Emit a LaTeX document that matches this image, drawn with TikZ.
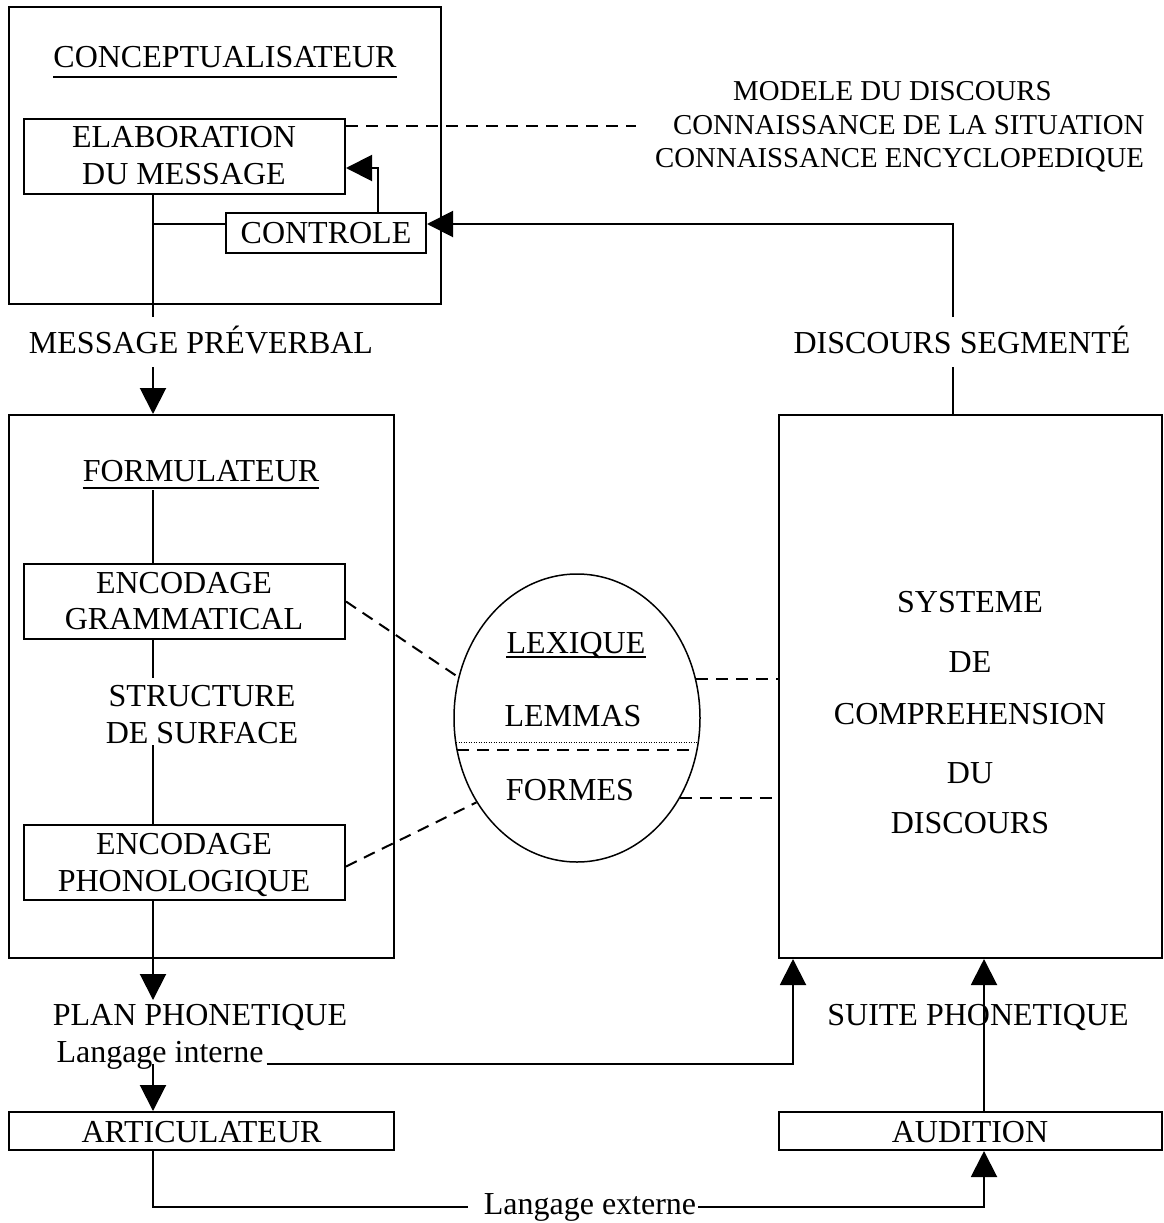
\documentclass[tikz,border=0pt]{standalone}
\usepackage{fontspec}
\setmainfont{Liberation Serif}
\usetikzlibrary{arrows.meta,shapes.geometric}
\begin{document}
\begin{tikzpicture}[x=1pt,y=-1pt,
  box/.style={draw,line width=2pt,inner sep=0pt},
  lbl/.style={inner sep=0pt,anchor=base,font=\fontsize{32}{36}\selectfont},
  note/.style={inner sep=0pt,anchor=base west,font=\fontsize{28.8}{34}\selectfont},
  wire/.style={line width=2pt},
  arr/.style={wire,-{Triangle[width=26pt,length=26pt]}},
  dsh/.style={line width=2pt,dash pattern=on 12pt off 8pt},
  dot/.style={line width=1pt,dash pattern=on 1pt off 1.5pt},
  uline/.style={line width=2pt}
]
\useasboundingbox (0,0) rectangle (1163,1223);

% ---- boxes ----
\node[box,minimum width=432pt,minimum height=297pt] (conc) at (225,155.5) {};
\node[box,minimum width=321pt,minimum height=75pt] (elab) at (184.5,156.5) {};
\node[box,minimum width=200pt,minimum height=40pt] (ctrl) at (326,233) {};
\node[box,minimum width=385pt,minimum height=543pt] (form) at (201.5,686.5) {};
\node[box,minimum width=321pt,minimum height=75pt] (encg) at (184.5,601.5) {};
\node[box,minimum width=321pt,minimum height=75pt] (encp) at (184.5,862.5) {};
\node[box,minimum width=383pt,minimum height=543pt] (syst) at (970.5,686.5) {};
\node[box,minimum width=385pt,minimum height=38pt] (artic) at (201.5,1131) {};
\node[box,minimum width=383pt,minimum height=38pt] (aud) at (970.5,1131) {};
\node[draw,ellipse,line width=1.5pt,inner sep=0pt,minimum width=246pt,minimum height=288pt] (lex) at (577,718) {};

% ---- texts ----
\node[lbl] (tconc) at (225,67) {CONCEPTUALISATEUR};
\draw[uline] ([yshift=-10pt]tconc.base west) -- ([yshift=-10pt]tconc.base east);
\node[lbl] (telab1) at (184,147) {ELABORATION};
\node[lbl] (telab2) at (184,184) {DU MESSAGE};
\node[lbl] (tctrl) at (326,243) {CONTROLE};
\node[note] (tmod1) at (733,100) {MODELE DU DISCOURS};
\node[note] (tmod2) at (673,134) {CONNAISSANCE DE LA SITUATION};
\node[note] (tmod3) at (655,167) {CONNAISSANCE ENCYCLOPEDIQUE};
\node[lbl] (tmp) at (201,353) {MESSAGE PRÉVERBAL};
\node[lbl] (tds) at (962,353) {DISCOURS SEGMENTÉ};
\node[lbl] (tform) at (201,481) {FORMULATEUR};
\draw[uline] ([yshift=-7pt]tform.base west) -- ([yshift=-7pt]tform.base east);
\node[lbl] (tencg1) at (184,593) {ENCODAGE};
\node[lbl] (tencg2) at (184,629) {GRAMMATICAL};
\node[lbl] (tss1) at (202,706) {STRUCTURE};
\node[lbl] (tss2) at (202,743) {DE SURFACE};
\node[lbl] (tencp1) at (184,854) {ENCODAGE};
\node[lbl] (tencp2) at (184,891) {PHONOLOGIQUE};
\node[lbl] (tlex) at (576,653) {LEXIQUE};
\draw[uline] ([yshift=-4pt]tlex.base west) -- ([yshift=-4pt]tlex.base east);
\node[lbl] (tlem) at (573,726) {LEMMAS};
\node[lbl] (tfor) at (570,800) {FORMES};
\node[lbl] (ts1) at (970,612) {SYSTEME};
\node[lbl] (ts2) at (970,672) {DE};
\node[lbl] (ts3) at (970,724) {COMPREHENSION};
\node[lbl] (ts4) at (970,783) {DU};
\node[lbl] (ts5) at (970,833) {DISCOURS};
\node[lbl] (tpp) at (200,1025) {PLAN PHONETIQUE};
\node[lbl] (tli) at (160,1062) {Langage interne};
\node[lbl] (tart) at (201.5,1142) {ARTICULATEUR};
\node[lbl] (tsp) at (978,1025) {SUITE PHONETIQUE};
\node[lbl] (taud) at (970,1142) {AUDITION};
\node[lbl] (tle) at (590,1214) {Langage externe};

% ---- lines across the lexicon ----
\path (lex.center) ++(-121,24) coordinate (dt1) ++(242,0) coordinate (dt2);
\path (lex.center) ++(-120,32) coordinate (dd1) ++(236,0) coordinate (dd2);
\draw[dot] (dt1) -- (dt2);
\draw[dsh] (dd1) -- (dd2);

% ---- connectors: conceptualiser ----
\coordinate (cb) at (378,168);
\draw[arr] (ctrl.north -| cb) |- (cb -| elab.east);
\coordinate (mdl) at (636,126);
\draw[dsh] (elab.east |- mdl) -- (mdl);
\coordinate (j) at (153,224);
\coordinate (mpt) at (153,317);
\coordinate (mpb) at (153,367);
\draw[wire] (elab.south -| mpt) -- (mpt);
\draw[wire] (j) -- (j -| ctrl.west);
\draw[arr] (mpb) -- (form.north -| mpb);

% ---- feedback from comprehension ----
\coordinate (dsb) at (953,367);
\coordinate (dst) at (953,317);
\coordinate (fb) at (953,224);
\draw[wire] (syst.north -| dsb) -- (dsb);
\draw[arr] (dst) -- (fb) -- (fb -| ctrl.east);

% ---- formulator ----
\coordinate (f1) at (153,490);
\coordinate (s1) at (153,678);
\coordinate (s2) at (153,745);
\draw[wire] (f1) -- (encg.north -| f1);
\draw[wire] (encg.south -| s1) -- (s1);
\draw[wire] (s2) -- (encp.north -| s2);
\draw[dsh] (encg.east) -- (lex.161);
\draw[dsh] ([yshift=-4pt]encp.east) -- (lex.220);
\draw[dsh] (lex.18) -- (syst.west |- lex.18);
\draw[dsh] (lex.-38) -- (syst.west |- lex.-38);

% ---- phonetic plan and articulation ----
\coordinate (pp) at (153,1000);
\draw[arr] (encp.south -| pp) -- (pp);
\coordinate (li) at (153,1064);
\draw[arr] (li) -- (artic.north -| li);
\coordinate (lir) at (793,1064);
\draw[arr] (tli.base east |- lir) ++(3,0) -| (syst.south -| lir);
\coordinate (ae) at (153,1207);
\coordinate (ae2) at (468,1207);
\coordinate (ae3) at (698,1207);
\coordinate (ae4) at (984,1207);
\draw[wire] (artic.south -| ae) |- (ae2);
\draw[arr] (ae3) -| (aud.south -| ae4);
\draw[arr] (aud.north -| ae4) -- (syst.south -| ae4);
\end{tikzpicture}
\end{document}
